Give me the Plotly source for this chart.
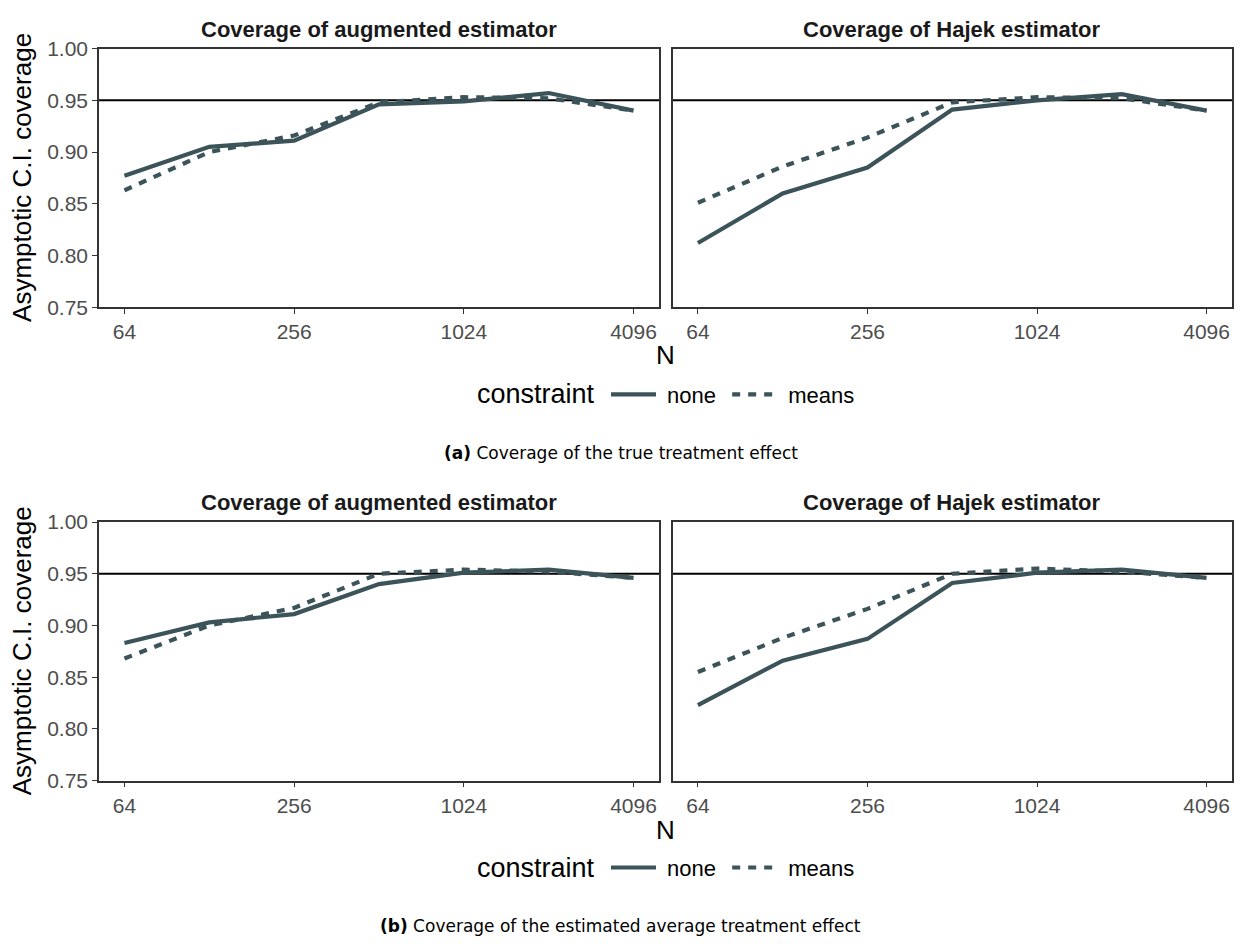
import math
import plotly.graph_objects as go

# Sample sizes (log2 spaced)
n_values = [64, 128, 256, 512, 1024, 2048, 4096]
tick_n = [64, 256, 1024, 4096]
tick_cov = [0.75, 0.80, 0.85, 0.90, 0.95, 1.00]

# (a) coverage of the true treatment effect
a_aug_none = [0.877, 0.905, 0.911, 0.946, 0.949, 0.957, 0.940]
a_aug_means = [0.863, 0.900, 0.916, 0.948, 0.953, 0.952, 0.940]
a_hajek_none = [0.812, 0.860, 0.885, 0.941, 0.950, 0.956, 0.940]
a_hajek_means = [0.851, 0.886, 0.914, 0.948, 0.953, 0.952, 0.940]

# (b) coverage of the estimated average treatment effect
b_aug_none = [0.883, 0.903, 0.911, 0.940, 0.951, 0.954, 0.946]
b_aug_means = [0.868, 0.900, 0.917, 0.950, 0.954, 0.952, 0.946]
b_hajek_none = [0.823, 0.866, 0.887, 0.941, 0.951, 0.954, 0.946]
b_hajek_means = [0.855, 0.888, 0.916, 0.950, 0.955, 0.952, 0.946]

nominal = 0.95
panel_titles = ["Coverage of augmented estimator", "Coverage of Hajek estimator"]
constraint_levels = ["none", "means"]
legend_title = "constraint"
captions = ["<b>(a)</b> Coverage of the true treatment effect",
            "<b>(b)</b> Coverage of the estimated average treatment effect"]

LINE_COLOR = "#3B5359"
W, H = 1241, 948
FONT = "Liberation Sans"
NBSP = "\u00a0"


def px_x(p):
    return p / W


def px_y(p):
    return 1 - p / H


# panel geometry
x_doms = [[px_x(99), px_x(659)], [px_x(672.5), px_x(1232)]]
y_doms = [[px_y(302.5), px_y(37.5)], [px_y(787.7), px_y(522.7)]]

fig = go.Figure()

series = [
    [(a_aug_none, a_aug_means), (a_hajek_none, a_hajek_means)],
    [(b_aug_none, b_aug_means), (b_hajek_none, b_hajek_means)],
]
dashes = ["solid", "8px,8px"]

axis_idx = 0
for r in range(2):
    for c in range(2):
        axis_idx += 1
        suffix = "" if axis_idx == 1 else str(axis_idx)
        for k, vals in enumerate(series[r][c]):
            fig.add_trace(go.Scatter(
                x=n_values, y=vals, mode="lines",
                # padded label: a little room around each legend entry
                name=NBSP + constraint_levels[k] + NBSP,
                line=dict(color=LINE_COLOR, width=4.2, dash=dashes[k]),
                xaxis="x" + suffix, yaxis="y" + suffix,
                showlegend=(c == 0),
                legend="legend" if r == 0 else "legend2",
                hoverinfo="skip",
            ))
        fig.add_shape(type="line", xref="x" + suffix + " domain", yref="y" + suffix,
                      x0=0, x1=1, y0=nominal, y1=nominal,
                      line=dict(color="black", width=2), layer="below")

        xr = [math.log10(2 ** 5.7), math.log10(2 ** 12.3)]
        xa = dict(domain=x_doms[c], anchor="y" + suffix, type="log", range=xr,
                  tickvals=tick_n, ticktext=[str(v) for v in tick_n],
                  ticks="outside", ticklen=5, tickwidth=1.3, tickcolor="#333333",
                  showline=True, mirror=True, linecolor="#333333", linewidth=1.5,
                  showgrid=False, zeroline=False,
                  tickfont=dict(family=FONT, size=21, color="#4D4D4D"))
        ya = dict(domain=y_doms[r], anchor="x" + suffix, range=[0.75, 1.0],
                  tickvals=tick_cov, ticktext=["%.2f" % v for v in tick_cov],
                  showline=True, mirror=True, linecolor="#333333", linewidth=1.5,
                  showgrid=False, zeroline=False,
                  tickfont=dict(family=FONT, size=21, color="#4D4D4D"))
        if c == 0:
            ya.update(ticks="outside", ticklen=5, tickwidth=1.3, tickcolor="#333333")
        else:
            ya.update(ticks="", showticklabels=False)
        fig.layout["xaxis" + suffix] = xa
        fig.layout["yaxis" + suffix] = ya

annotations = []
title_y = [px_y(18), px_y(503)]
n_y = [px_y(352), px_y(838)]
leg_y = [px_y(392), px_y(877)]
cap_y = [px_y(452), px_y(937)]
for r in range(2):
    for c in range(2):
        annotations.append(dict(
            text="<b>%s</b>" % panel_titles[c], xref="paper", yref="paper",
            x=sum(x_doms[c]) / 2, y=title_y[r], xanchor="center", yanchor="middle",
            showarrow=False, font=dict(family=FONT, size=22, color="#1A1A1A")))
    annotations.append(dict(
        text="Asymptotic C.I. coverage", xref="paper", yref="paper",
        x=px_x(22), y=sum(y_doms[r]) / 2, textangle=-90,
        xanchor="center", yanchor="middle", showarrow=False,
        font=dict(family=FONT, size=26, color="black")))
    annotations.append(dict(
        text="N", xref="paper", yref="paper", x=px_x(665), y=n_y[r],
        xanchor="center", yanchor="middle", showarrow=False,
        font=dict(family=FONT, size=26, color="black")))
    annotations.append(dict(
        text=legend_title, xref="paper", yref="paper", x=px_x(597), y=leg_y[r],
        xanchor="right", yanchor="middle", showarrow=False,
        font=dict(family=FONT, size=27, color="black")))
    annotations.append(dict(
        text=captions[r], xref="paper", yref="paper", x=0.5, y=cap_y[r],
        xanchor="center", yanchor="middle", showarrow=False,
        font=dict(family="DejaVu Sans", size=17, color="black")))

legend_common = dict(
    orientation="h", xanchor="left", yanchor="middle",
    font=dict(family=FONT, size=22, color="black"),
    bgcolor="rgba(0,0,0,0)", itemwidth=45,
)

fig.update_layout(
    width=W, height=H,
    margin=dict(l=0, r=0, t=0, b=0),
    paper_bgcolor="white", plot_bgcolor="white",
    annotations=annotations,
    legend=dict(x=px_x(606), y=leg_y[0], **legend_common),
    legend2=dict(x=px_x(606), y=leg_y[1], **legend_common),
)

fig.write_html("out.html")
